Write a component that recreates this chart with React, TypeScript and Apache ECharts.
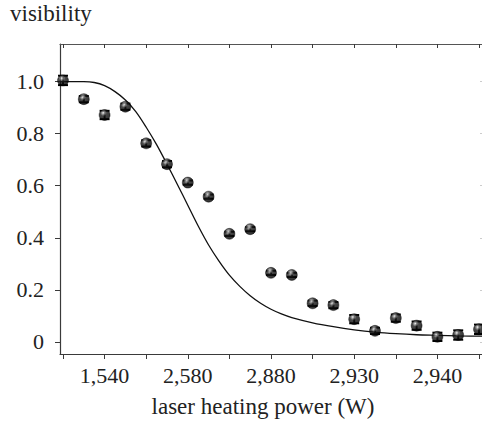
import React, { useEffect, useRef } from "react";
import * as echarts from "echarts";

// Data
const pointIndex = [0, 1, 2, 3, 4, 5, 6, 7, 8, 9, 10, 11, 12, 13, 14, 15, 16, 17, 18, 19, 20];
const visibility = [1.005, 0.933, 0.872, 0.904, 0.763, 0.683, 0.612, 0.558, 0.415, 0.433, 0.265, 0.257, 0.148, 0.141, 0.087, 0.042, 0.091, 0.062, 0.019, 0.026, 0.048];
const visibilityError = [0.018, 0.012, 0.016, 0.012, 0.012, 0.012, 0.008, 0.008, 0.008, 0.008, 0.008, 0.008, 0.01, 0.012, 0.016, 0.012, 0.014, 0.016, 0.016, 0.018, 0.018];
const fitX = [-0.144, 0, 1, 1.5, 2, 2.5, 3, 3.5, 4, 4.5, 5, 5.5, 6, 6.5, 7, 7.5, 8, 8.5, 9, 9.5, 10, 10.5, 11, 12, 13, 14, 15, 16, 17, 18, 19, 20, 20.144];
const fitY = [1.0, 1.0, 1.0, 0.997, 0.985, 0.962, 0.93, 0.885, 0.825, 0.758, 0.683, 0.605, 0.525, 0.445, 0.372, 0.31, 0.256, 0.213, 0.177, 0.148, 0.125, 0.107, 0.093, 0.073, 0.058, 0.046, 0.037, 0.031, 0.027, 0.025, 0.023, 0.022, 0.022];
const xTickIndices = [0, 2, 4, 6, 8, 10, 12, 14, 16, 18, 20];
const xLabelIndices = [2, 6, 10, 14, 18];
const xTickLabels = ["1,540", "2,580", "2,880", "2,930", "2,940"];
const yTicks = [0, 0.2, 0.4, 0.6, 0.8, 1.0];

const FONT = "'Liberation Serif', 'Times New Roman', serif";

export default function App() {
  const ref = useRef<HTMLDivElement>(null);
  useEffect(() => {
    if (!ref.current) return;
    const chart = echarts.init(ref.current, null, { renderer: "svg" });
    const axisColor = "#3a3a3a";
    const scatterData = pointIndex.map((x, i) => [x, visibility[i]]);
    const errData = pointIndex.map((x, i) => [x, visibility[i], visibilityError[i]]);
    const fitData = fitX.map((x, i) => [x, fitY[i]]);
    const ball = new echarts.graphic.RadialGradient(0.4, 0.3, 0.65, [
      { offset: 0, color: "#ffffff" },
      { offset: 0.18, color: "#9a9a9a" },
      { offset: 0.45, color: "#1a1a1a" },
      { offset: 1, color: "#000000" },
    ]);
    const xMin = -0.144;
    const xMax = 20.144;
    const labelFor = (v: number) => {
      const k = xLabelIndices.indexOf(Math.round(v));
      return k >= 0 ? xTickLabels[k] : "";
    };
    chart.setOption({
      animation: false,
      backgroundColor: "#ffffff",
      grid: { left: 60, right: 0, top: 44, bottom: 69 },
      xAxis: [
        {
          type: "value",
          position: "bottom",
          min: xMin,
          max: xMax,
          axisLine: { show: true, onZero: false, lineStyle: { color: axisColor, width: 1.2 } },
          axisTick: { show: true, customValues: xTickIndices, inside: false, length: 5, lineStyle: { color: axisColor } },
          axisLabel: {
            show: true,
            customValues: xLabelIndices,
            formatter: labelFor,
            margin: 10,
            fontFamily: FONT,
            fontSize: 22,
            color: "#222",
          },
          splitLine: { show: false },
        },
        {
          type: "value",
          position: "top",
          min: xMin,
          max: xMax,
          axisLine: { show: true, onZero: false, lineStyle: { color: "#555", width: 1.2 } },
          axisTick: { show: true, customValues: xTickIndices, inside: true, length: 4, lineStyle: { color: axisColor } },
          axisLabel: { show: false },
          splitLine: { show: false },
        },
      ],
      yAxis: [
        {
          type: "value",
          position: "left",
          min: -0.047,
          max: 1.145,
          axisLine: { show: true, onZero: false, lineStyle: { color: axisColor, width: 1.2 } },
          axisTick: { show: true, customValues: yTicks, inside: false, length: 5, lineStyle: { color: axisColor } },
          axisLabel: {
            show: true,
            customValues: yTicks,
            formatter: (v: number) => (Math.abs(v) < 1e-9 ? "0" : v.toFixed(1)),
            margin: 16,
            fontFamily: FONT,
            fontSize: 22,
            color: "#222",
          },
          splitLine: { show: false },
        },
        {
          type: "value",
          position: "right",
          min: -0.047,
          max: 1.145,
          axisLine: { show: false, onZero: false },
          axisTick: { show: true, customValues: yTicks, inside: true, length: 2, lineStyle: { color: "#ccc" } },
          axisLabel: { show: false },
          splitLine: { show: false },
        },
      ],
      series: [
        {
          type: "line",
          data: fitData,
          smooth: 0.3,
          showSymbol: false,
          symbol: "none",
          lineStyle: { color: "#111", width: 1.3 },
          z: 2,
          silent: true,
        },
        {
          type: "custom",
          data: errData,
          z: 3,
          silent: true,
          renderItem: (params: any, api: any) => {
            const x = api.value(0);
            const y = api.value(1);
            const e = api.value(2);
            const top = api.coord([x, y + e]);
            const bot = api.coord([x, y - e]);
            const hw = 5;
            const st = { stroke: "#000", lineWidth: 2 };
            return {
              type: "group",
              children: [
                { type: "line", shape: { x1: top[0], y1: top[1], x2: bot[0], y2: bot[1] }, style: st },
                { type: "line", shape: { x1: top[0] - hw, y1: top[1], x2: top[0] + hw, y2: top[1] }, style: st },
                { type: "line", shape: { x1: bot[0] - hw, y1: bot[1], x2: bot[0] + hw, y2: bot[1] }, style: st },
              ],
            };
          },
        },
        {
          type: "scatter",
          data: scatterData,
          symbol: "circle",
          symbolSize: 11,
          itemStyle: { color: ball, borderColor: "#000", borderWidth: 0.5 },
          z: 4,
          silent: true,
        },
      ],
      graphic: [
        {
          type: "text",
          left: 10,
          top: 2,
          style: { text: "visibility", font: `23px ${FONT}`, fill: "#222" },
        },
        {
          type: "text",
          x: 263,
          y: 406,
          style: {
            text: "laser heating power (W)",
            font: `23px ${FONT}`,
            fill: "#222",
            align: "center",
            verticalAlign: "middle",
          },
        },
      ],
    });
    return () => chart.dispose();
  }, []);
  return <div ref={ref} style={{ width: 482, height: 423, position: "absolute", left: 0, top: 0 }} />;
}
